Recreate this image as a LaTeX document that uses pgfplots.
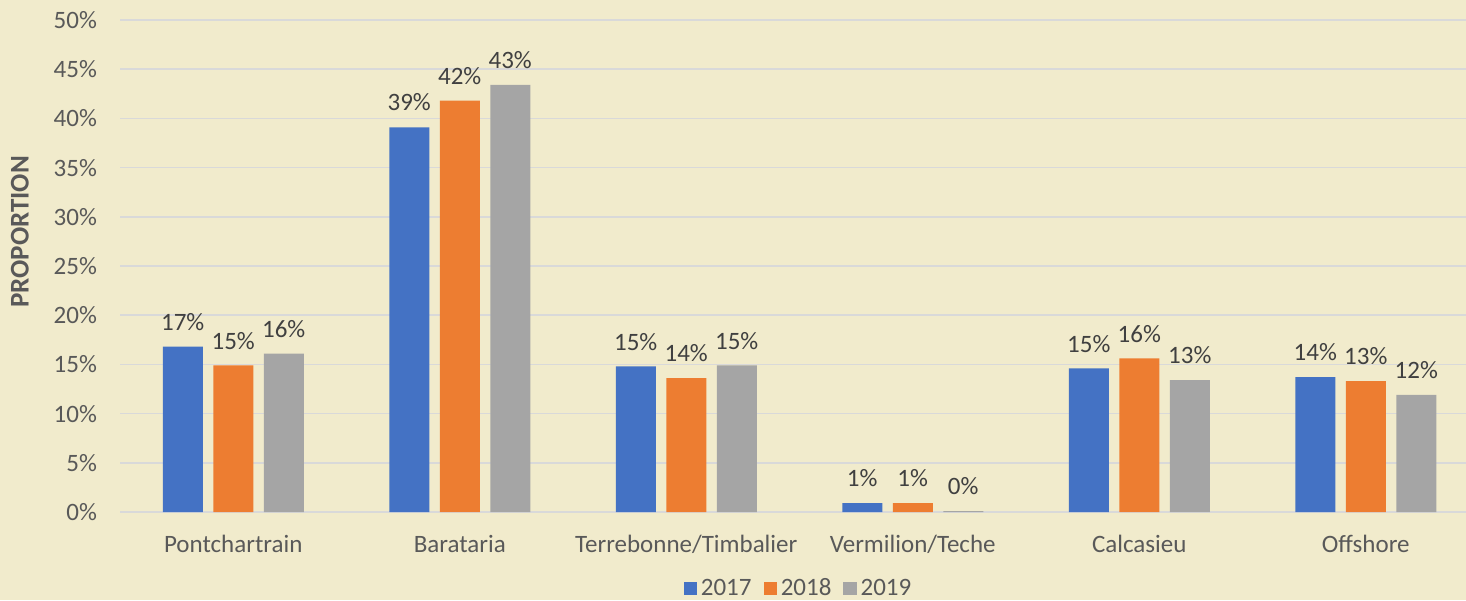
\documentclass[border=0pt]{standalone}
\usepackage{pgfplots}
\pgfplotsset{compat=1.18}
\usepackage{fontspec}
\setmainfont{Carlito}
\definecolor{bg}{HTML}{F1EBCC}
\definecolor{c17}{HTML}{4472C4}
\definecolor{c18}{HTML}{ED7D31}
\definecolor{c19}{HTML}{A5A5A5}
\definecolor{grid}{HTML}{D9D9D9}
\definecolor{txt}{HTML}{595959}
\definecolor{lbl}{HTML}{404040}
\begin{document}
\begin{tikzpicture}
\fill[bg] (0,0) rectangle (733pt,300pt);
\useasboundingbox (0,0) rectangle (733pt,300pt);
\begin{axis}[
  at={(60pt,44pt)}, anchor=south west,
  scale only axis, width=679.5pt, height=246pt,
  ybar=5.25pt, bar width=20pt,
  xmin=-0.5, xmax=5.5, ymin=0, ymax=50,
  xtick={0,1,2,3,4,5},
  xticklabels={Pontchartrain,Barataria,Terrebonne/Timbalier,Vermilion/Teche,Calcasieu,Offshore},
  ytick={0,5,...,50},
  yticklabel={\pgfmathprintnumber{\tick}\%},
  /pgf/number format/assume math mode=true,
  ymajorgrids, grid style={draw=grid, line width=0.8pt},
  axis line style={draw=none},
  major tick length=0pt,
  tick label style={font=\fontsize{12.5}{14}\selectfont, text=txt},
  yticklabel style={xshift=-8pt},
  xticklabel style={yshift=-8pt},
  ylabel={PROPORTION},
  ylabel style={at={(axis description cs:-0.0736,0.569)}, anchor=center, font=\fontsize{13.5}{15}\selectfont\bfseries, text=txt},
  nodes near coords={\pgfmathprintnumber[fixed,precision=0]{\pgfplotspointmeta}\%},
  every node near coord/.append style={font=\fontsize{12.5}{14}\selectfont, text=lbl, yshift=4.5pt},
  legend style={at={(axis description cs:0.5,-0.156)}, anchor=center, draw=none, fill=none,
    legend columns=-1, font=\fontsize{12.5}{14}\selectfont, text=txt,
    /tikz/every even column/.append style={column sep=4pt}},
  legend image code/.code={\fill[#1] (0pt,-3.3pt) rectangle (6.6pt,3.3pt);},
  clip=false,
]
\addplot[fill=c17, draw=none] coordinates {(0,16.8) (1,39.1) (2,14.8) (3,0.9) (4,14.6) (5,13.7)};
\addplot[fill=c18, draw=none] coordinates {(0,14.9) (1,41.8) (2,13.6) (3,0.9) (4,15.6) (5,13.3)};
\addplot[fill=c19, draw=none] coordinates {(0,16.1) (1,43.4) (2,14.9) (3,0.1) (4,13.4) (5,11.9)};
\legend{2017,2018,2019}
\end{axis}
\end{tikzpicture}
\end{document}
